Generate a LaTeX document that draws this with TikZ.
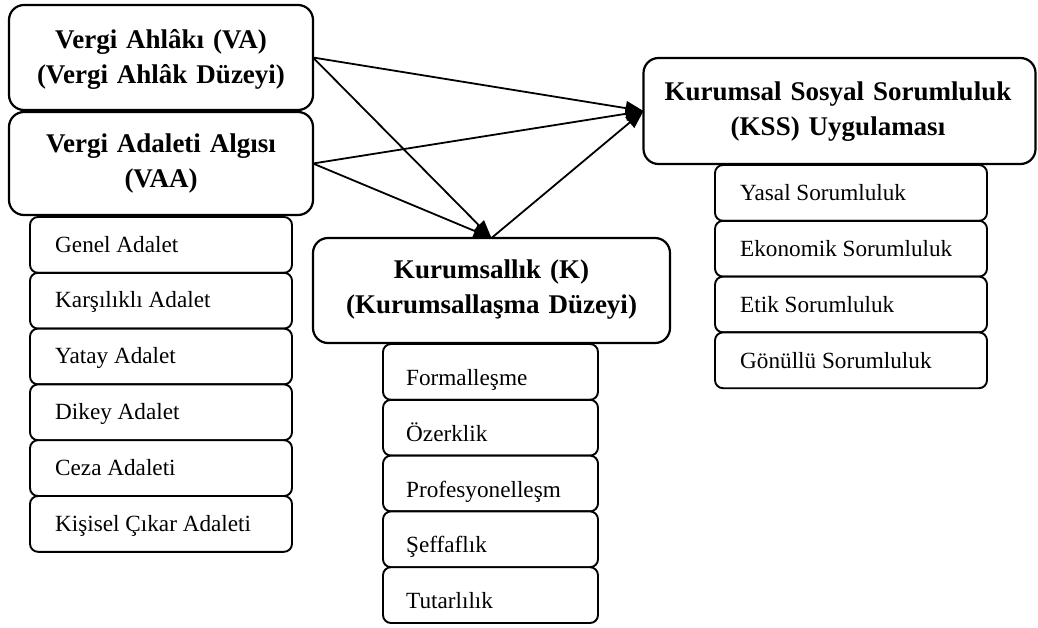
\documentclass[tikz,border=0pt]{standalone}
\usepackage{fontspec}
\setmainfont{Liberation Serif}
\usetikzlibrary{arrows.meta}
\begin{document}
\begin{tikzpicture}[x=1pt,y=-1pt,
  bigbox/.style={draw, line width=2.2pt, rounded corners=15pt, fill=white, inner sep=0pt, outer sep=0pt},
  itembox/.style={draw, line width=1.9pt, rounded corners=8pt, fill=white, inner sep=0pt, outer sep=0pt, minimum height=55.8pt},
  titletext/.style={font=\bfseries\fontsize{27}{35}\selectfont, align=center, inner sep=0pt, anchor=base},
  itemtext/.style={font=\fontsize{23.2}{28}\selectfont, inner sep=0pt, anchor=base west},
  link/.style={line width=1.8pt, -{Triangle[length=18pt,width=14pt]}}
]
\useasboundingbox (0,0) rectangle (1038,627);

% main boxes
\node[bigbox, minimum width=304pt, minimum height=105pt] (VA) at (161,57.5) {};
\node[bigbox, minimum width=304pt, minimum height=103pt] (VAA) at (161,163.5) {};
\node[bigbox, minimum width=392pt, minimum height=106pt] (KSS) at (839.5,111) {};
\node[bigbox, minimum width=357pt, minimum height=105pt] (K) at (491.5,290.5) {};

\node[titletext, text width=290pt] (VAt) at (161,48) {Vergi Ahlâkı (VA)\\(Vergi Ahlâk Düzeyi)};
\node[titletext, text width=290pt] (VAAt) at (161,152) {Vergi Adaleti Algısı\\(VAA)};
\node[titletext, text width=380pt] (KSSt) at (838,100) {Kurumsal Sosyal Sorumluluk\\(KSS) Uygulaması};
\node[titletext, text width=340pt] (Kt) at (491.5,278) {Kurumsallık (K)\\(Kurumsallaşma Düzeyi)};

% left list
\node[itembox, minimum width=262pt] (L1) at (161,244.9) {};
\node[itembox, minimum width=262pt] (L2) at (161,300.7) {};
\node[itembox, minimum width=262pt] (L3) at (161,356.5) {};
\node[itembox, minimum width=262pt] (L4) at (161,412.3) {};
\node[itembox, minimum width=262pt] (L5) at (161,468.1) {};
\node[itembox, minimum width=262pt] (L6) at (161,523.9) {};
\node[itemtext] (L1t) at (55,252) {Genel Adalet};
\node[itemtext] (L2t) at (55,307.8) {Karşılıklı Adalet};
\node[itemtext] (L3t) at (55,363.6) {Yatay Adalet};
\node[itemtext] (L4t) at (55,419.4) {Dikey Adalet};
\node[itemtext] (L5t) at (55,475.2) {Ceza Adaleti};
\node[itemtext] (L6t) at (55,531) {Kişisel Çıkar Adaleti};

% middle list
\node[itembox, minimum width=215pt] (M1) at (490.5,371.9) {};
\node[itembox, minimum width=215pt] (M2) at (490.5,427.7) {};
\node[itembox, minimum width=215pt] (M3) at (490.5,483.5) {};
\node[itembox, minimum width=215pt] (M4) at (490.5,539.3) {};
\node[itembox, minimum width=215pt] (M5) at (490.5,595.1) {};
\node[itemtext] (M1t) at (406,385) {Formalleşme};
\node[itemtext] (M2t) at (406,441) {Özerklik};
\node[itemtext] (M3t) at (406,497) {Profesyonelleşm};
\node[itemtext] (M4t) at (406,552) {Şeffaflık};
\node[itemtext] (M5t) at (406,608) {Tutarlılık};

% right list
\node[itembox, minimum width=272pt] (R1) at (851,192.9) {};
\node[itembox, minimum width=272pt] (R2) at (851,248.7) {};
\node[itembox, minimum width=272pt] (R3) at (851,304.5) {};
\node[itembox, minimum width=272pt] (R4) at (851,360.3) {};
\node[itemtext] (R1t) at (740,200.5) {Yasal Sorumluluk};
\node[itemtext] (R2t) at (740,256.3) {Ekonomik Sorumluluk};
\node[itemtext] (R3t) at (740,312.1) {Etik Sorumluluk};
\node[itemtext] (R4t) at (740,368) {Gönüllü Sorumluluk};

% connectors
\draw[link] (VA.east) -- (KSS.west);
\draw[link] (VA.east) -- (K.north);
\draw[link] (VAA.east) -- (KSS.west);
\draw[link] (VAA.east) -- (K.north);
\draw[link] (K.north) -- (KSS.west);
\end{tikzpicture}
\end{document}
